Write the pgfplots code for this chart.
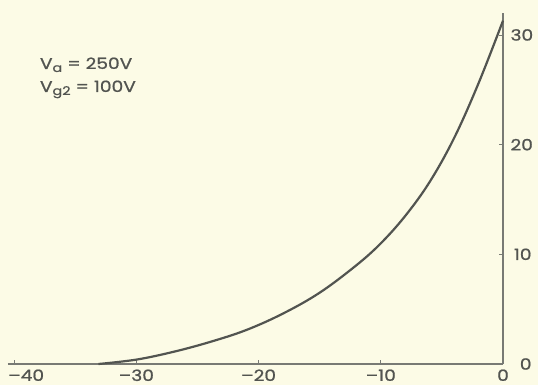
\documentclass[border=0pt]{standalone}
\usepackage{fontspec}
\setmainfont{Poppins}
\newfontfamily\lab{Poppins}[FakeStretch=1.2,FakeBold=1]
\usepackage{pgfplots}
\pgfplotsset{compat=1.18}

\definecolor{paper}{RGB}{252,251,230}
\definecolor{ink}{RGB}{82,84,80}
\definecolor{axisgray}{RGB}{120,122,116}

\newcommand{\sub}[1]{\raisebox{-3pt}{\fontsize{12}{12}\selectfont #1}}

\begin{document}
\begin{tikzpicture}[x=1pt,y=1pt]
\path[use as bounding box, fill=paper] (0,0) rectangle (538,385);
\begin{axis}[
  at={(8pt,21pt)}, anchor=south west,
  scale only axis, width=495pt, height=351pt,
  xmin=-40.5, xmax=0, ymin=0, ymax=32,
  axis x line*=bottom, axis y line*=right,
  axis line style={axisgray, line width=1.1pt, -},
  xtick={-40,-30,-20,-10,0},
  % the -40 label sits to the right of its tick in the original
  xticklabels={\hspace*{24pt}\textendash40,\textendash30,\textendash20,\textendash10,0},
  ytick={0,10,20,30},
  tick align=inside,
  major tick length=4pt,
  tick style={axisgray, line width=0.8pt},
  ticklabel style={font=\lab\fontsize{15.5}{15.5}\selectfont, text=ink},
  xticklabel style={yshift=-2pt},
  yticklabel style={anchor=west, xshift=4pt, text width=21pt, align=right},
  /pgf/number format/assume math mode=true,
  clip=false,
]
\addplot[ink, line width=2.2pt, smooth, tension=0.6] coordinates {
  (-33.1,0) (-30,0.4) (-27,1.1) (-24,2.0) (-21,3.1) (-18,4.6)
  (-15,6.5) (-12,9.0) (-10,11.0) (-8,13.5) (-6,16.6) (-4,20.6)
  (-2,25.6) (0,31.3)
};
\node[anchor=base west, text=ink, font=\lab\fontsize{15.5}{15.5}\selectfont, inner sep=0pt]
  at (axis cs:-37.9,26.9) {V\sub{a} = 250V};
\node[anchor=base west, text=ink, font=\lab\fontsize{15.5}{15.5}\selectfont, inner sep=0pt]
  at (axis cs:-37.9,24.8) {V\sub{g2} = 100V};
\end{axis}
\end{tikzpicture}
\end{document}
